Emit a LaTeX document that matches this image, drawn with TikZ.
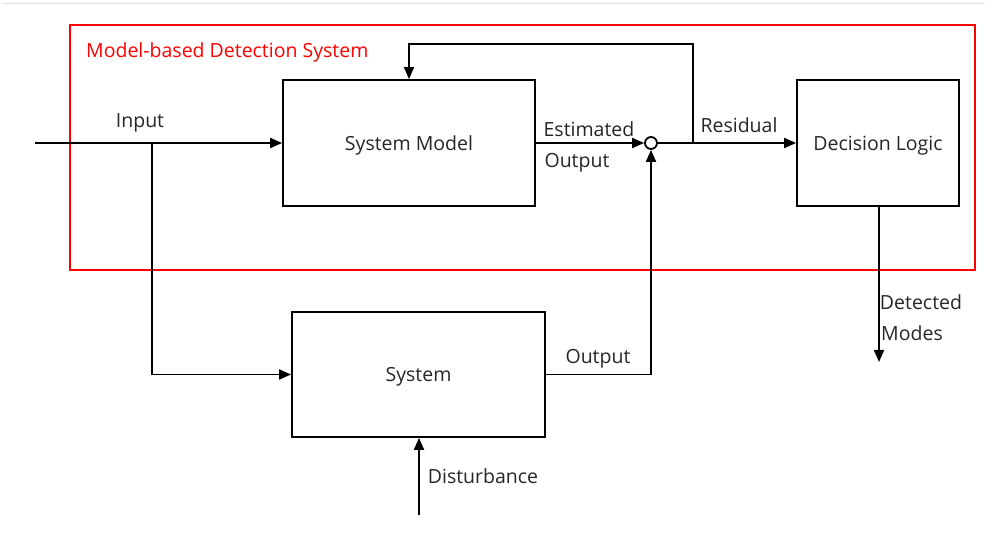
\documentclass[tikz,border=0pt]{standalone}
\usepackage{fontspec}
\setmainfont{Open Sans}
\usetikzlibrary{arrows.meta}
\begin{document}
\begin{tikzpicture}[x=1bp,y=-1bp,
  font=\fontsize{19.5bp}{23bp}\selectfont,
  blk/.style={draw,line width=1.8bp,inner sep=0pt,text depth=0pt,text=black!85},
  wire/.style={line width=1.8bp},
  arr/.style={wire,-{Triangle[length=12bp,width=10bp]}},
  lbl/.style={inner sep=0pt,text depth=0pt,text=black!85}]
\useasboundingbox (0,0) rectangle (985,537);
% page rule at the top
\draw[black!12,line width=1bp] (2,4) -- (985,4);
% detection system frame
\draw[red,line width=1.8bp] (70,25) rectangle (975,270);
\node[lbl,text=red,anchor=west] (title) at (86,50) {Model-based Detection System};
% blocks
\node[blk,minimum width=252bp,minimum height=126bp] (model) at (409,143) {System Model};
\node[blk,minimum width=162bp,minimum height=126bp] (logic) at (878,143) {Decision Logic};
\node[blk,minimum width=253bp,minimum height=125bp] (sys) at (418.5,374.5) {System};
\node[draw,circle,line width=1.8bp,minimum size=12bp,inner sep=0pt] (sum) at (651,143) {};
% free ends and corners
\coordinate (in) at (35,143);
\coordinate (br) at (152,143);
\coordinate (fb) at (693,143);
\coordinate (dist) at (419,515);
\coordinate (modes) at (879,362);
% connectors
\draw[arr] (in) -- (model.west);
\draw[arr] (br) |- (sys.west);
\draw[arr] (model.east) -- (sum.west);
\draw[arr] (sum.east) -- (logic.west);
\draw[arr] (fb) |- (409,44) -- (model.north);
\draw[arr] (sys.east) -| (sum.south);
\draw[arr] (dist) -- (sys.south -| dist);
\draw[arr] (logic.south -| modes) -- (modes);
% labels
\node[lbl] (lin) at (140,121) {Input};
\node[lbl] (lest) at (589,129) {Estimated};
\node[lbl] (lestb) at (577,160) {Output};
\node[lbl] (lres) at (739,125) {Residual};
\node[lbl] (lout) at (598,356) {Output};
\node[lbl] (ldist) at (483,476) {Disturbance};
\node[lbl] (ldet) at (921,302) {Detected};
\node[lbl] (lmod) at (912,333) {Modes};
\end{tikzpicture}
\end{document}
